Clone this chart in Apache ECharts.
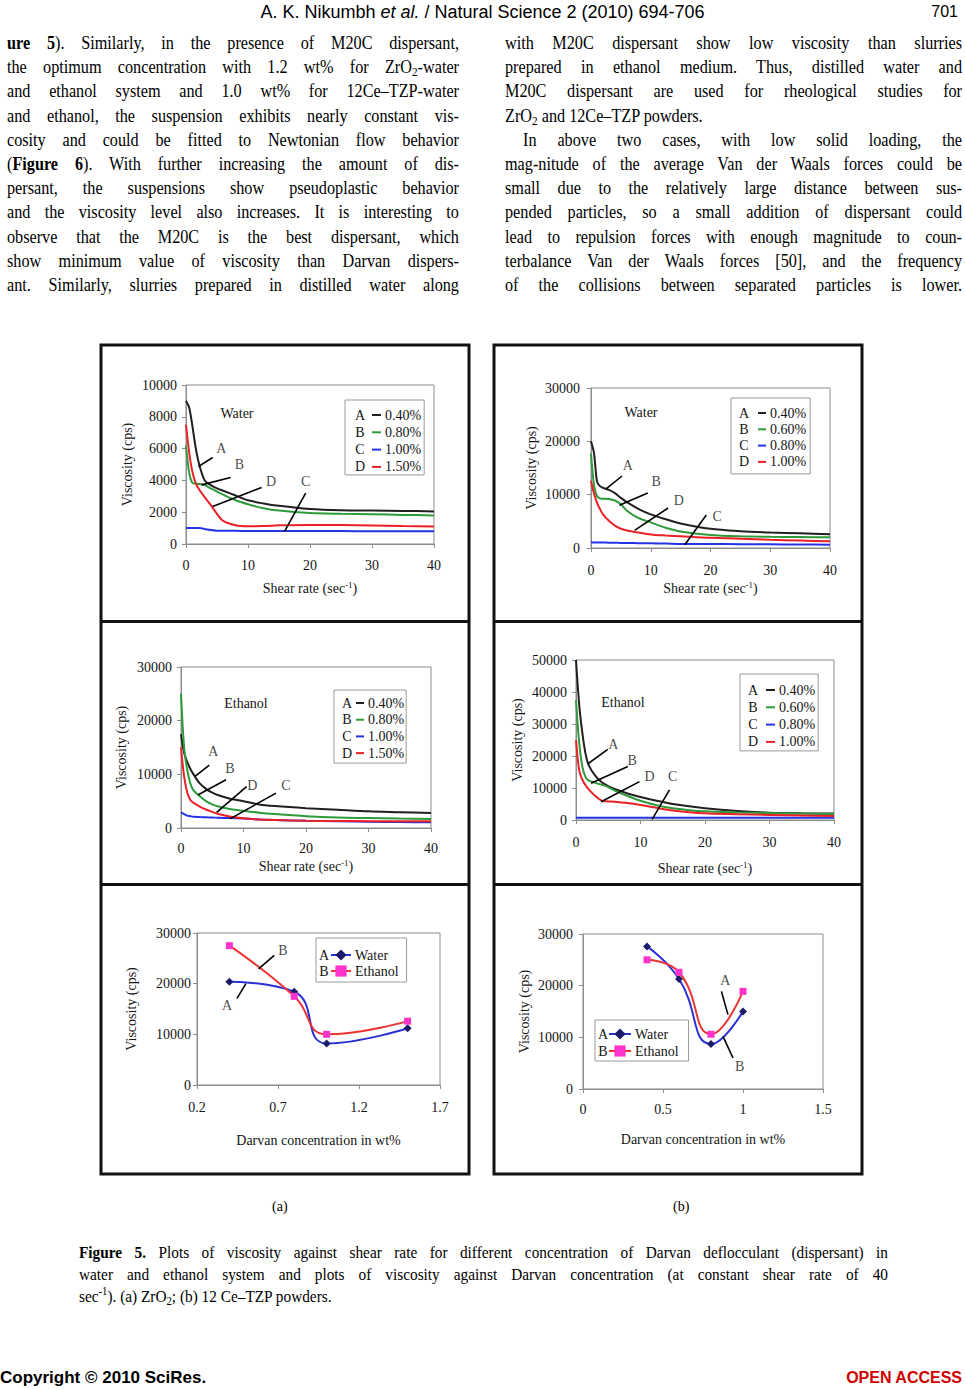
<!DOCTYPE html>
<html>
<head>
<meta charset="utf-8">
<script src="https://cdn.jsdelivr.net/npm/echarts@6/dist/echarts.min.js"></script>
<style>
html,body{margin:0;padding:0;background:#fff;}
#page{position:relative;width:965px;height:1389px;overflow:hidden;background:#fff;}
#chart{position:absolute;left:0;top:0;width:965px;height:1389px;z-index:1;}
.t{position:absolute;z-index:2;font-family:'Liberation Serif','Times New Roman',serif;font-size:18px;line-height:20px;color:#000;white-space:nowrap;transform-origin:0 0;}
.n{transform:scaleX(0.9);}
.j{text-align:justify;text-align-last:justify;white-space:normal;}
.L{left:7px;width:502.2px;}
.R{left:505px;width:507.8px;}
.cap{font-size:17px;}
.sans{font-family:'Liberation Sans',Arial,sans-serif;}
sub{font-size:70%;vertical-align:-3px;line-height:0;}
sup{font-size:70%;vertical-align:7px;line-height:0;}
</style>
</head>
<body>
<div id="page">
<div id="chart"></div>

<div class="t sans" style="left:0;top:2px;width:965px;text-align:center;font-size:18px;">A. K. Nikumbh <i>et al.</i> / Natural Science 2 (2010) 694-706</div>
<div class="t sans" style="right:7px;top:2px;font-size:16px;">701</div>

<div class="t n j L" style="top:33px;"><b>ure 5</b>). Similarly, in the presence of M20C dispersant,</div>
<div class="t n j L" style="top:57px;">the optimum concentration with 1.2 wt% for ZrO<sub>2</sub>-water</div>
<div class="t n j L" style="top:81px;">and ethanol system and 1.0 wt% for 12Ce–TZP-water</div>
<div class="t n j L" style="top:106px;">and ethanol, the suspension exhibits nearly constant vis-</div>
<div class="t n j L" style="top:130px;">cosity and could be fitted to Newtonian flow behavior</div>
<div class="t n j L" style="top:154px;">(<b>Figure 6</b>). With further increasing the amount of dis-</div>
<div class="t n j L" style="top:178px;">persant, the suspensions show pseudoplastic behavior</div>
<div class="t n j L" style="top:202px;">and the viscosity level also increases. It is interesting to</div>
<div class="t n j L" style="top:227px;">observe that the M20C is the best dispersant, which</div>
<div class="t n j L" style="top:251px;">show minimum value of viscosity than Darvan dispers-</div>
<div class="t n j L" style="top:275px;">ant. Similarly, slurries prepared in distilled water along</div>

<div class="t n j R" style="top:33px;">with M20C dispersant show low viscosity than slurries</div>
<div class="t n j R" style="top:57px;">prepared in ethanol medium. Thus, distilled water and</div>
<div class="t n j R" style="top:81px;">M20C dispersant are used for rheological studies for</div>
<div class="t n" style="left:505px;top:106px;">ZrO<sub>2</sub> and 12Ce–TZP powders.</div>
<div class="t n j" style="left:523px;width:487.8px;top:130px;">In above two cases, with low solid loading, the</div>
<div class="t n j R" style="top:154px;">mag-nitude of the average Van der Waals forces could be</div>
<div class="t n j R" style="top:178px;">small due to the relatively large distance between sus-</div>
<div class="t n j R" style="top:202px;">pended particles, so a small addition of dispersant could</div>
<div class="t n j R" style="top:227px;">lead to repulsion forces with enough magnitude to coun-</div>
<div class="t n j R" style="top:251px;">terbalance Van der Waals forces [50], and the frequency</div>
<div class="t n j R" style="top:275px;">of the collisions between separated particles is lower.</div>

<div class="t" style="left:272px;top:1197px;font-size:14px;">(a)</div>
<div class="t" style="left:673px;top:1197px;font-size:14px;">(b)</div>

<div class="t n j cap" style="left:79px;width:898.9px;top:1243px;"><b>Figure 5.</b> Plots of viscosity against shear rate for different concentration of Darvan deflocculant (dispersant) in</div>
<div class="t n j cap" style="left:79px;width:898.9px;top:1265px;">water and ethanol system and plots of viscosity against Darvan concentration (at constant shear rate of 40</div>
<div class="t n cap" style="left:79px;top:1287px;">sec<sup>-1</sup>). (a) ZrO<sub>2</sub>; (b) 12 Ce–TZP powders.</div>

<div class="t sans" style="left:0;top:1368px;font-size:17px;font-weight:bold;">Copyright © 2010 SciRes.</div>
<div class="t sans" style="right:3px;top:1368px;font-size:16px;font-weight:bold;color:#d00000;">OPEN ACCESS</div>
</div>

<script>
// ---------------- DATA ----------------
const shearRate = [0, 0.5, 1, 1.5, 2, 3, 4, 5, 6, 8, 10, 12.5, 15, 20, 25, 30, 35, 40];
const shearTicks = [0, 10, 20, 30, 40];

// (a) ZrO2 in water, Darvan 0.40 / 0.80 / 1.00 / 1.50 %
const zrWaterA = [9000, 8600, 7500, 6200, 5200, 4000, 3700, 3500, 3350, 3050, 2750, 2550, 2400, 2200, 2120, 2100, 2080, 2050];
const zrWaterB = [6200, 4500, 3850, 3800, 3780, 3700, 3500, 3300, 3100, 2750, 2500, 2250, 2100, 1950, 1900, 1870, 1830, 1800];
const zrWaterC = [1000, 1000, 1000, 1010, 1000, 950, 880, 840, 830, 830, 820, 820, 815, 810, 810, 805, 800, 800];
const zrWaterD = [7500, 5800, 4600, 3900, 3500, 2950, 2450, 1900, 1450, 1180, 1120, 1130, 1180, 1200, 1190, 1170, 1130, 1100];

// (b) 12Ce-TZP in water, Darvan 0.40 / 0.60 / 0.80 / 1.00 %
const ceWaterA = [20000, 17800, 12500, 11600, 11300, 10900, 10300, 9400, 8600, 7300, 6300, 5400, 4600, 3600, 3150, 2900, 2750, 2600];
const ceWaterB = [17700, 11800, 9700, 9300, 9250, 9200, 8900, 8200, 7000, 5600, 4800, 3800, 3100, 2450, 2200, 2100, 2050, 2000];
const ceWaterC = [1060, 1050, 1040, 1030, 1020, 1000, 980, 960, 940, 900, 880, 830, 760, 740, 720, 690, 650, 620];
const ceWaterD = [12600, 10200, 8500, 7300, 6300, 5100, 4200, 3600, 3300, 2900, 2550, 2350, 2200, 1900, 1750, 1550, 1400, 1250];

// (a) ZrO2 in ethanol
const zrEthA = [17500, 14000, 12300, 11000, 10000, 8300, 7300, 6600, 6100, 5400, 5000, 4400, 4100, 3700, 3400, 3100, 2950, 2800];
const zrEthB = [25000, 15000, 10800, 8300, 7000, 5900, 5000, 4400, 4000, 3500, 3200, 2850, 2600, 2200, 1950, 1850, 1750, 1700];
const zrEthC = [2900, 2600, 2300, 2200, 2100, 2050, 2000, 1950, 1900, 1850, 1750, 1600, 1500, 1350, 1250, 1150, 1100, 1050];
const zrEthD = [15000, 9600, 6600, 5200, 4700, 4000, 3450, 3000, 2600, 2100, 1800, 1600, 1500, 1350, 1300, 1280, 1260, 1250];

// (b) 12Ce-TZP in ethanol
const ceEthA = [50000, 36000, 27000, 20500, 17000, 13800, 11800, 10600, 9700, 8300, 7200, 6000, 5000, 3700, 2800, 2300, 2100, 2000];
const ceEthB = [37500, 24000, 16500, 13300, 12300, 11600, 11000, 10300, 9200, 7500, 6000, 4600, 3700, 2700, 2350, 2150, 2000, 1900];
const ceEthC = [700, 700, 700, 700, 700, 700, 700, 700, 700, 700, 700, 700, 700, 700, 700, 700, 700, 700];
const ceEthD = [25000, 15500, 12500, 10800, 9500, 7500, 6000, 5800, 5700, 5300, 4700, 3800, 3000, 2100, 1800, 1600, 1400, 1250];

// Viscosity vs Darvan concentration (shear rate 40 s-1)
const zrConc = [0.4, 0.8, 1.0, 1.5];
const zrDarvanWater = [20400, 18400, 8200, 11200];
const zrDarvanEthanol = [27500, 17500, 10000, 12600];
const ceConc = [0.4, 0.6, 0.8, 1.0];
const ceDarvanWater = [27600, 21300, 8700, 15000];
const ceDarvanEthanol = [25000, 22600, 10600, 18900];

const zrDoses = ['0.40%', '0.80%', '1.00%', '1.50%'];
const ceDoses = ['0.40%', '0.60%', '0.80%', '1.00%'];
const curveLetters = ['A', 'B', 'C', 'D'];
const mediumNames = ['Water', 'Ethanol'];

// Annotation leaders (data units): from, to, label position
const leadersP1 = [
  {label: 'A', from: [1.99, 4870], to: [4.3, 5440], at: [5.7, 6030]},
  {label: 'B', from: [2.52, 3720], to: [7.19, 4180], at: [8.6, 4980]},
  {label: 'D', from: [4.3, 2360], to: [12.2, 3560], at: [13.7, 3930]},
  {label: 'C', from: [15.9, 800], to: [19.3, 3200], at: [19.3, 3930]}
];
const leadersP2 = [
  {label: 'A', from: [2.52, 11080], to: [5.2, 13500], at: [6.15, 15400]},
  {label: 'B', from: [4.76, 8000], to: [9.5, 10300], at: [10.9, 12500]},
  {label: 'D', from: [7.3, 3300], to: [12.9, 7500], at: [14.7, 9000]},
  {label: 'C', from: [15.7, 620], to: [19.3, 6200], at: [21.1, 5900]}
];
const leadersP3 = [
  {label: 'A', from: [2.24, 9600], to: [4.53, 11700], at: [5.17, 14200]},
  {label: 'B', from: [2.77, 6200], to: [7.2, 9000], at: [7.84, 11100]},
  {label: 'D', from: [5.7, 2900], to: [10.5, 7700], at: [11.4, 8000]},
  {label: 'C', from: [7.84, 1700], to: [15.2, 6500], at: [16.8, 8000]}
];
const leadersP4 = [
  {label: 'A', from: [1.81, 17500], to: [4.92, 22100], at: [5.8, 23750]},
  {label: 'B', from: [2.33, 11500], to: [8.03, 16700], at: [8.7, 18750]},
  {label: 'D', from: [3.9, 5700], to: [9.84, 12000], at: [11.4, 13500]},
  {label: 'C', from: [11.8, 200], to: [14.5, 9400], at: [15.0, 13500]}
];
const leadersP5 = [
  {label: 'A', from: [0.447, 17100], to: [0.502, 20000], at: [0.385, 15600]},
  {label: 'B', from: [0.58, 22900], to: [0.677, 25600], at: [0.73, 26500]}
];
const leadersP6 = [
  {label: 'A', from: [0.865, 18900], to: [0.906, 14400], at: [0.89, 21000]},
  {label: 'B', from: [0.875, 10200], to: [0.9375, 6000], at: [0.979, 4400]}
];

// ---------------- STYLE / LAYOUT ----------------
const SERIF = 'Liberation Serif';
const TXT = '#151515';
const AX = '#8c8c8c';
const COL = {A: '#231f20', B: '#2e9b3b', C: '#2533e6', D: '#ec2027'};

const shearPanels = [
  {grid: {left: 186, top: 385, width: 248, height: 159}, yMax: 10000, yInt: 2000,
   yLabelMargin: 9, xLabelMargin: 14, yNameGap: 51, xNameGap: 36,
   legend: {left: 345, top: 400, pad: [8, 3, 1, 27], itemWidth: 9, gap: 3.3}, letterX: 360,
   medium: 0, mediumPos: [237, 413], doses: zrDoses,
   curves: [zrWaterA, zrWaterB, zrWaterC, zrWaterD], leaders: leadersP1},
  {grid: {left: 591, top: 388, width: 239, height: 160}, yMax: 30000, yInt: 10000,
   yLabelMargin: 11, xLabelMargin: 15, yNameGap: 52, xNameGap: 32,
   legend: {left: 731, top: 398, pad: [8, 4, 5, 27], itemWidth: 8, gap: 2.3}, letterX: 744,
   medium: 0, mediumPos: [641, 412], doses: ceDoses,
   curves: [ceWaterA, ceWaterB, ceWaterC, ceWaterD], leaders: leadersP2},
  {grid: {left: 181, top: 667, width: 250, height: 161}, yMax: 30000, yInt: 10000,
   yLabelMargin: 9, xLabelMargin: 13, yNameGap: 52, xNameGap: 30,
   legend: {left: 334, top: 690, pad: [6, 2, 3, 22], itemWidth: 8, gap: 2.7}, letterX: 347,
   medium: 1, mediumPos: [246, 703], doses: zrDoses,
   curves: [zrEthA, zrEthB, zrEthC, zrEthD], leaders: leadersP3},
  {grid: {left: 576, top: 660, width: 258, height: 160}, yMax: 50000, yInt: 10000,
   yLabelMargin: 9, xLabelMargin: 15, yNameGap: 51, xNameGap: 40,
   legend: {left: 740, top: 674, pad: [9, 3, 2, 26], itemWidth: 9, gap: 3.3}, letterX: 753,
   medium: 1, mediumPos: [623, 702], doses: ceDoses,
   curves: [ceEthA, ceEthB, ceEthC, ceEthD], leaders: leadersP4}
];

const darvanPanels = [
  {grid: {left: 197, top: 933, width: 243, height: 152}, xMin: 0.2, xMax: 1.7,
   yLabelMargin: 6, xLabelMargin: 15, yNameGap: 58, xNameGap: 47,
   legend: {left: 316, top: 938, pad: [10, 8, 4, 14], itemWidth: 20, gap: 2}, letterX: 324,
   conc: zrConc, water: zrDarvanWater, ethanol: zrDarvanEthanol, leaders: leadersP5},
  {grid: {left: 583, top: 934, width: 240, height: 155}, xMin: 0, xMax: 1.5,
   yLabelMargin: 10, xLabelMargin: 13, yNameGap: 51, xNameGap: 42,
   legend: {left: 595, top: 1020, pad: [7, 10, 3, 13], itemWidth: 22, gap: 3}, letterX: 603,
   conc: ceConc, water: ceDarvanWater, ethanol: ceDarvanEthanol, leaders: leadersP6}
];

// ---------------- BUILD ----------------
const option = {
  animation: false,
  backgroundColor: 'transparent',
  textStyle: {fontFamily: SERIF, color: TXT},
  grid: [], xAxis: [], yAxis: [], series: [], legend: [], graphic: []
};

function baseAxis(i) {
  return {
    gridIndex: i, type: 'value',
    nameLocation: 'middle',
    nameTextStyle: {fontFamily: SERIF, fontSize: 14, color: TXT, lineHeight: 16,
      rich: {s: {fontFamily: SERIF, fontSize: 9, color: TXT, verticalAlign: 'top', lineHeight: 16}}},
    axisLine: {show: true, onZero: false, lineStyle: {color: AX, width: 1}},
    axisTick: {show: true, length: 4, lineStyle: {color: AX}},
    axisLabel: {fontFamily: SERIF, fontSize: 14, color: TXT, showMinLabel: true, showMaxLabel: true, hideOverlap: false},
    splitLine: {show: false}
  };
}

function addLegendLetters(lg, n) {
  for (let k = 0; k < n; k++) {
    option.graphic.push({
      type: 'text', z: 200, silent: true,
      style: {
        text: curveLetters[k], x: lg.letterX, y: lg.legend.top + lg.legend.pad[0] + 7 + k * (14 + lg.legend.gap),
        fontFamily: SERIF, fontSize: 14, fill: TXT,
        align: 'center', verticalAlign: 'middle', textAlign: 'center', textVerticalAlign: 'middle'
      }
    });
  }
}

function addAnnotations(i, leaders) {
  option.series.push({
    type: 'lines', coordinateSystem: 'cartesian2d', xAxisIndex: i, yAxisIndex: i,
    silent: true, z: 5,
    lineStyle: {color: '#000', width: 1.6, opacity: 1, curveness: 0},
    data: leaders.map(l => ({coords: [l.from, l.to]}))
  });
  option.series.push({
    type: 'scatter', xAxisIndex: i, yAxisIndex: i, silent: true, z: 6,
    symbol: 'circle', symbolSize: 1, itemStyle: {color: 'rgba(0,0,0,0)'},
    label: {show: true, position: 'inside', formatter: '{b}', fontFamily: SERIF, fontSize: 14, color: TXT},
    data: leaders.map(l => ({name: l.label, value: l.at}))
  });
}

function legendCfg(p, names, labelOf, lineIcon) {
  return {
    orient: 'vertical', left: p.legend.left, top: p.legend.top,
    padding: p.legend.pad, itemGap: p.legend.gap,
    itemWidth: p.legend.itemWidth, itemHeight: lineIcon ? 2 : 14,
    backgroundColor: '#fff', borderColor: '#9a9a9a', borderWidth: 1, borderRadius: 0,
    selectedMode: false, z: 100,
    textStyle: {fontFamily: SERIF, fontSize: 14, color: TXT, padding: [0, 0, 0, -1]},
    data: names.map(n => lineIcon ? {name: n, icon: 'rect'} : n),
    formatter: n => labelOf[n]
  };
}

shearPanels.forEach((p, i) => {
  option.grid.push(Object.assign({show: true, borderColor: AX, borderWidth: 1, outerBoundsMode: 'none', containLabel: false}, p.grid));
  option.xAxis.push(Object.assign(baseAxis(i), {
    min: shearTicks[0], max: shearTicks[shearTicks.length - 1], interval: shearTicks[1] - shearTicks[0],
    name: 'Shear rate (sec{s|-1})', nameGap: p.xNameGap
  }));
  option.xAxis[i].axisLabel.margin = p.xLabelMargin;
  option.yAxis.push(Object.assign(baseAxis(i), {
    min: 0, max: p.yMax, interval: p.yInt, name: 'Viscosity (cps)', nameGap: p.yNameGap
  }));
  option.yAxis[i].axisLabel.margin = p.yLabelMargin;
  option.yAxis[i].axisLabel.formatter = v => String(v);

  const names = [], labelOf = {};
  p.curves.forEach((vals, k) => {
    const nm = 'p' + i + curveLetters[k];
    names.push(nm); labelOf[nm] = p.doses[k];
    const color = COL[curveLetters[k]];
    option.series.push({
      type: 'line', name: nm, xAxisIndex: i, yAxisIndex: i,
      data: shearRate.map((x, m) => [x, vals[m]]),
      smooth: 0.3, symbol: 'none', showSymbol: false, z: 3,
      lineStyle: {color: color, width: 2}, itemStyle: {color: color}
    });
  });
  option.legend.push(legendCfg(p, names, labelOf, true));
  addLegendLetters(p, 4);
  addAnnotations(i, p.leaders);
  option.graphic.push({
    type: 'text', z: 200, silent: true,
    style: {text: mediumNames[p.medium], x: p.mediumPos[0], y: p.mediumPos[1],
      fontFamily: SERIF, fontSize: 14, fill: TXT,
      align: 'center', verticalAlign: 'middle', textAlign: 'center', textVerticalAlign: 'middle'}
  });
});

darvanPanels.forEach((p, j) => {
  const i = shearPanels.length + j;
  option.grid.push(Object.assign({show: true, borderColor: AX, borderWidth: 1, outerBoundsMode: 'none', containLabel: false}, p.grid));
  option.xAxis.push(Object.assign(baseAxis(i), {
    min: p.xMin, max: p.xMax, interval: 0.5,
    name: 'Darvan concentration in wt%', nameGap: p.xNameGap
  }));
  option.xAxis[i].axisLabel.margin = p.xLabelMargin;
  option.xAxis[i].axisLabel.formatter = v => String(Math.round(v * 10) / 10);
  option.yAxis.push(Object.assign(baseAxis(i), {
    min: 0, max: 30000, interval: 10000, name: 'Viscosity (cps)', nameGap: p.yNameGap
  }));
  option.yAxis[i].axisLabel.margin = p.yLabelMargin;
  option.yAxis[i].axisLabel.formatter = v => String(v);

  const nW = 'd' + j + 'W', nE = 'd' + j + 'E';
  option.series.push({
    type: 'line', name: nW, xAxisIndex: i, yAxisIndex: i,
    data: p.conc.map((x, m) => [x, p.water[m]]),
    smooth: 0.5, symbol: 'diamond', symbolSize: 8, showSymbol: true, z: 3,
    lineStyle: {color: '#2b2fd6', width: 2}, itemStyle: {color: '#1b1b6b'}
  });
  option.series.push({
    type: 'line', name: nE, xAxisIndex: i, yAxisIndex: i,
    data: p.conc.map((x, m) => [x, p.ethanol[m]]),
    smooth: 0.5, symbol: 'rect', symbolSize: 7, showSymbol: true, z: 4,
    lineStyle: {color: '#ea3535', width: 2}, itemStyle: {color: '#ff33cc'}
  });
  const labelOf = {}; labelOf[nW] = mediumNames[0]; labelOf[nE] = mediumNames[1];
  option.legend.push(legendCfg(p, [nW, nE], labelOf, false));
  addLegendLetters(p, 2);
  addAnnotations(i, p.leaders);
});

// Figure frames
[[101, 469], [494, 862]].forEach(([x0, x1]) => {
  option.graphic.push({type: 'rect', z: 0, silent: true,
    shape: {x: x0, y: 345, width: x1 - x0, height: 829},
    style: {fill: 'none', stroke: '#111', lineWidth: 3}});
  [621.5, 884.5].forEach(y => option.graphic.push({type: 'line', z: 0, silent: true,
    shape: {x1: x0, y1: y, x2: x1, y2: y}, style: {stroke: '#111', lineWidth: 3}}));
});

const chart = echarts.init(document.getElementById('chart'), null, {renderer: 'svg', width: 965, height: 1389});
chart.setOption(option);
</script>
</body>
</html>
